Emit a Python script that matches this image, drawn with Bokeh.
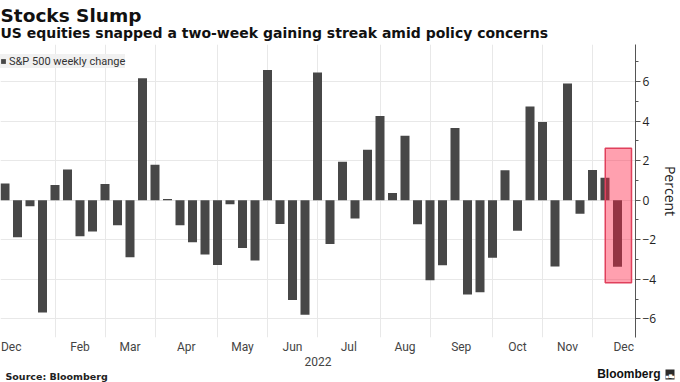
from bokeh.plotting import figure
from bokeh.layouts import column
from bokeh.models import (ColumnDataSource, FixedTicker, BoxAnnotation, Range1d)
from bokeh.embed import file_html
from bokeh.resources import INLINE
from bokeh.core.properties import value

# ---- data -------------------------------------------------------------
week_ending = [
    "2021-12-31", "2022-01-07", "2022-01-14", "2022-01-21", "2022-01-28",
    "2022-02-04", "2022-02-11", "2022-02-18", "2022-02-25", "2022-03-04",
    "2022-03-11", "2022-03-18", "2022-03-25", "2022-04-01", "2022-04-08",
    "2022-04-14", "2022-04-22", "2022-04-29", "2022-05-06", "2022-05-13",
    "2022-05-20", "2022-05-27", "2022-06-03", "2022-06-10", "2022-06-17",
    "2022-06-24", "2022-07-01", "2022-07-08", "2022-07-15", "2022-07-22",
    "2022-07-29", "2022-08-05", "2022-08-12", "2022-08-19", "2022-08-26",
    "2022-09-02", "2022-09-09", "2022-09-16", "2022-09-23", "2022-09-30",
    "2022-10-07", "2022-10-14", "2022-10-21", "2022-10-28", "2022-11-04",
    "2022-11-11", "2022-11-18", "2022-11-25", "2022-12-02", "2022-12-09",
]
weekly_change = [
    0.85, -1.87, -0.30, -5.68, 0.77,
    1.55, -1.82, -1.58, 0.82, -1.27,
    -2.88, 6.16, 1.79, 0.06, -1.27,
    -2.13, -2.75, -3.27, -0.21, -2.41,
    -3.05, 6.58, -1.20, -5.05, -5.79,
    6.45, -2.21, 1.94, -0.93, 2.55,
    4.26, 0.36, 3.26, -1.21, -4.04,
    -3.29, 3.65, -4.77, -4.65, -2.91,
    1.51, -1.55, 4.74, 3.95, -3.35,
    5.90, -0.69, 1.53, 1.13, -3.37,
]
series_name = "S&P 500 weekly change"

# month labels (positions in week index) and month-boundary grid weeks
month_ticks = [0.5, 6, 10, 14.5, 19, 23, 27.5, 32, 36.5, 41, 45, 49.5]
month_labels = ["Dec", "Feb", "Mar", "Apr", "May", "Jun", "Jul", "Aug",
                "Sep", "Oct", "Nov", "Dec"]
month_boundaries = [4, 8, 12, 17, 21, 25, 30, 34, 39, 43, 47]
year_label = "2022"

y_ticks = [-6, -4, -2, 0, 2, 4, 6]
y_minor_ticks = [-7, -5, -3, -1, 1, 3, 5, 7]

# highlighted latest week
highlight_weeks = (48.02, 50.12)
highlight_percent = (-4.17, 2.63)

title_text = "Stocks Slump"
subtitle_text = "US equities snapped a two-week gaining streak amid policy concerns"
source_text = "Source: Bloomberg"
brand_text = "Bloomberg"

W = 676
HEAD_H = 44
FOOT_H = 14
FW, FH = 635, 293


def text_panel(h):
    f = figure(frame_width=W, frame_height=h, x_range=Range1d(0, W),
               y_range=Range1d(h, 0), x_axis_type=None, y_axis_type=None,
               output_backend="svg", toolbar_location=None, min_border=0,
               outline_line_color=None, background_fill_color="white",
               border_fill_color="white")
    f.grid.visible = False
    return f


# ---- header -----------------------------------------------------------
head = text_panel(HEAD_H)
head.text(x=[0], y=[15], text=[title_text], text_font=value("DejaVu Sans"),
          text_font_style="bold", text_font_size="18.5px",
          text_color="#111111", text_baseline="alphabetic")
head.text(x=[0], y=[32], text=[subtitle_text], text_font=value("DejaVu Sans"),
          text_font_style="bold", text_font_size="14px",
          text_color="#111111", text_baseline="alphabetic")

# ---- main chart -------------------------------------------------------
src = ColumnDataSource(dict(x=list(range(len(weekly_change))),
                            v=weekly_change, date=week_ending))

p = figure(frame_width=FW, frame_height=FH,
           x_range=Range1d(-0.36, 50.44), y_range=Range1d(-6.94, 7.87),
           y_axis_location="right", output_backend="svg",
           toolbar_location=None, min_border_left=0, min_border_top=0,
           min_border_bottom=30, min_border_right=0,
           outline_line_color=None, background_fill_color="white",
           border_fill_color="white")

p.vbar(x="x", top="v", bottom=0, width=0.72, source=src,
       fill_color="#474747", line_color=None, legend_label=series_name)

p.xgrid.ticker = FixedTicker(ticks=month_boundaries)
p.ygrid.ticker = FixedTicker(ticks=y_ticks)
for g in (p.xgrid, p.ygrid):
    g.grid_line_color = "#e8e8e8"
    g.grid_line_width = 1

xa = p.xaxis[0]
xa.ticker = FixedTicker(ticks=month_ticks)
xa.major_label_overrides = {(int(t) if t == int(t) else t): lab
                            for t, lab in zip(month_ticks, month_labels)}
xa.axis_line_color = None
xa.major_tick_line_color = None
xa.minor_tick_line_color = None
xa.major_tick_out = 0
xa.major_label_standoff = 2
xa.major_label_text_font = "Roboto"
xa.major_label_text_font_size = "12px"
xa.major_label_text_color = "#444444"
xa.axis_label = year_label
xa.axis_label_text_font = "Roboto"
xa.axis_label_text_font_size = "12px"
xa.axis_label_text_font_style = "normal"
xa.axis_label_text_color = "#444444"
xa.axis_label_standoff = 0

ya = p.yaxis[0]
ya.ticker = FixedTicker(ticks=y_ticks, minor_ticks=y_minor_ticks)
ya.axis_line_color = "#555555"
ya.major_tick_line_color = "#555555"
ya.minor_tick_line_color = "#555555"
ya.major_tick_in = 0
ya.major_tick_out = 5
ya.minor_tick_in = 0
ya.minor_tick_out = 3
ya.major_label_standoff = 2
ya.major_label_text_font = "Open Sans"
ya.major_label_text_font_size = "12px"
ya.major_label_text_color = "#222222"
ya.axis_label = "Percent"
ya.axis_label_text_font = "Open Sans"
ya.axis_label_text_font_size = "14px"
ya.axis_label_text_font_style = "normal"
ya.axis_label_text_color = "#222222"
ya.axis_label_standoff = 2

p.add_layout(BoxAnnotation(left=highlight_weeks[0], right=highlight_weeks[1],
                           bottom=highlight_percent[0], top=highlight_percent[1],
                           fill_color="#ff1d41", fill_alpha=0.42,
                           line_color="#e0405c", line_width=1.5, line_alpha=1))

lg = p.legend[0]
lg.location = (0, FH - 24)
lg.margin = 0
lg.padding = 5
lg.spacing = 0
lg.glyph_width = 6
lg.glyph_height = 6
lg.label_height = 14
lg.label_standoff = 3
lg.label_text_font = "Roboto"
lg.label_text_font_size = "11px"
lg.label_text_color = "#333333"
lg.background_fill_color = "#f0f0f0"
lg.background_fill_alpha = 0.95
lg.border_line_color = None

# ---- footer -----------------------------------------------------------
foot = text_panel(FOOT_H)
foot.text(x=[5], y=[7.5], text=[source_text], text_font=value("DejaVu Sans"),
          text_font_style="bold", text_font_size="9.5px",
          text_color="#222222", text_baseline="middle")
foot.text(x=[660], y=[5.5], text=[brand_text], text_font=value("Liberation Sans"),
          text_font_style="bold", text_font_size="12px",
          text_color="#111111", text_baseline="middle", text_align="right")
foot.quad(left=[665], right=[674], top=[1], bottom=[11],
          fill_color="#2b2b2b", line_color=None)
foot.text(x=[669.5], y=[6.5], text=["\u2584\u2586\u2584"], text_font_size="4px",
          text_color="white", text_baseline="middle", text_align="center")

layout = column(head, p, foot, spacing=0)
open("out.html", "w").write(file_html(layout, INLINE))
